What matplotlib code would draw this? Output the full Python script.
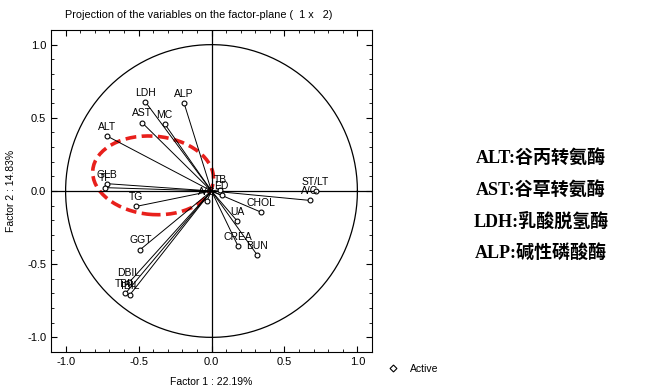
import numpy as np
import matplotlib.pyplot as plt
from matplotlib.patches import Ellipse
from matplotlib.lines import Line2D
from matplotlib.ticker import MultipleLocator

# Coordenadas de las variables sobre el plano factorial (factor 1, factor 2)
nombres = ['LDH', 'ALP', 'AST', 'MC', 'ALT', 'GLB', 'TF', 'TG', 'A/G', 'GGT',
           'DBIL', 'TBIL', 'IBIL', 'ST/LT', 'A/C', 'CHOL', 'UA', 'CREA', 'BUN',
           'TB', 'ED']
f1 = [-0.454, -0.188, -0.477, -0.322, -0.715, -0.715, -0.73, -0.515, -0.033, -0.488,
      -0.565, -0.59, -0.56, 0.713, 0.672, 0.338, 0.176, 0.183, 0.315,
      0.06, 0.07]
f2 = [0.61, 0.60, 0.468, 0.46, 0.375, 0.05, 0.023, -0.105, -0.07, -0.40,
      -0.625, -0.70, -0.71, 0.0, -0.064, -0.144, -0.205, -0.379, -0.44,
      0.01, -0.03]

leyenda_cn = ['ALT:谷丙转氨酶', 'AST:谷草转氨酶', 'LDH:乳酸脱氢酶', 'ALP:碱性磷酸酶']

plt.rcParams['font.family'] = ['Liberation Sans', 'DejaVu Sans']

fig = plt.figure(figsize=(6.57, 3.92), dpi=100)
ax = fig.add_axes([51 / 657, 40 / 392, 321 / 657, 322 / 392])

# Círculo unidad y ejes
t = np.linspace(0, 2 * np.pi, 400)
ax.plot(np.cos(t), np.sin(t), color='black', lw=0.9)
ax.axhline(0, color='black', lw=0.9)
ax.axvline(0, color='black', lw=0.9)

# Vectores de las variables
for n, x, y in zip(nombres, f1, f2):
    ax.plot([0, x], [0, y], color='black', lw=0.7)
    ax.plot(x, y, 'o', mfc='white', mec='black', ms=3.5, mew=0.8)
    ax.annotate(n, (x, y), xytext=(0, 3), textcoords='offset points',
                ha='center', va='bottom', fontsize=7.5)

# Elipse roja discontinua
ax.add_patch(Ellipse((-0.40, 0.107), 0.83, 0.535, angle=-5, fill=False,
                     ec='#e8201c', lw=2.6, ls=(0, (3, 1.5))))

ax.set_xlim(-1.1, 1.1)
ax.set_ylim(-1.1, 1.1)
ax.xaxis.set_major_locator(MultipleLocator(0.5))
ax.yaxis.set_major_locator(MultipleLocator(0.5))
ax.xaxis.set_minor_locator(MultipleLocator(0.1))
ax.yaxis.set_minor_locator(MultipleLocator(0.1))
ax.tick_params(which='both', direction='in', top=True, right=True, labelsize=8)
ax.tick_params(which='major', length=4)
ax.tick_params(which='minor', length=2.5)
ax.xaxis.set_major_formatter(plt.FuncFormatter(lambda v, p: f'{v:.1f}'))
ax.yaxis.set_major_formatter(plt.FuncFormatter(lambda v, p: f'{v:.1f}'))

ax.set_xlabel('Factor 1 : 22.19%', fontsize=7.5, labelpad=7)
ax.set_ylabel('Factor 2 : 14.83%', fontsize=7.5, labelpad=8)
fig.text(65 / 657, 1 - 15 / 392, 'Projection of the variables on the factor-plane (  1 x   2)',
         fontsize=7.8, va='center', ha='left')

# Leyenda
h = Line2D([], [], marker='D', ls='none', mfc='white', mec='black', ms=3.5, mew=0.8)
ax.legend([h], ['Active'], loc='center left', bbox_to_anchor=(1.02, -0.053),
          frameon=False, fontsize=7.5, handletextpad=0.6, borderaxespad=0)

# Texto en chino a la derecha
for i, s in enumerate(leyenda_cn):
    fig.text(541 / 657, 1 - (158 + i * 31.7) / 392, s, ha='center', va='center',
             fontsize=13, fontweight='bold',
             family=['Liberation Serif', 'Noto Sans CJK SC'])

fig.savefig('out.png', dpi=100)
